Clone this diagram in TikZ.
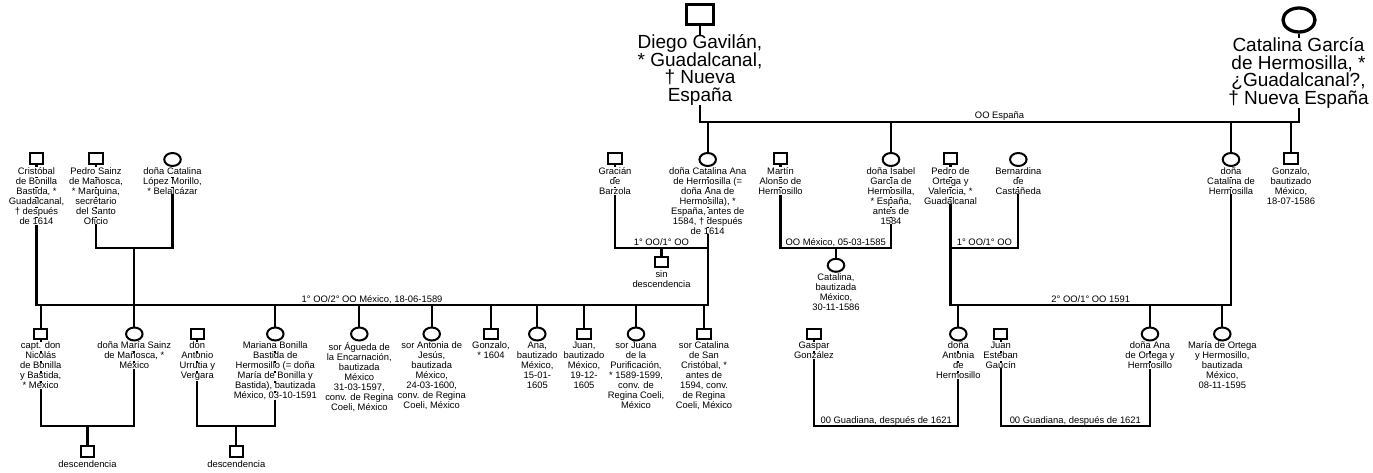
\documentclass[tikz,border=0pt]{standalone}
\usepackage{fontspec}
\setmainfont{Liberation Sans}
\usetikzlibrary{shapes.geometric,backgrounds}
\setlength{\lineskiplimit}{-10pt}

\tikzset{
	man/.style={draw, line width=2pt, minimum width=13.5pt, minimum height=10.5pt, inner sep=0pt},
	woman/.style={draw, ellipse, line width=2pt, minimum width=16.5pt, minimum height=13pt, inner sep=0pt},
	bigman/.style={man, line width=3.3pt, minimum width=27pt, minimum height=20pt},
	bigwoman/.style={woman, line width=3.3pt, minimum width=32pt, minimum height=24pt},
	txt/.style={anchor=north, align=center, fill=white, inner xsep=1pt, inner ysep=0pt, font=\fontsize{9.4}{10}\selectfont, execute at begin node={\rule{0pt}{7.5pt}}},
	bigtxt/.style={txt, font=\fontsize{19}{17.5}\selectfont, execute at begin node={\rule{0pt}{15pt}}},
	tie/.style={line width=2.2pt},
	lbl/.style={anchor=base, yshift=3pt, inner sep=0pt, font=\fontsize{9.4}{10}\selectfont},
	gaps/.style={line width=2.2pt, dash pattern=on 1.6pt off 8.4pt}
}

\begin{document}
\begin{tikzpicture}[x=1pt, y=-1pt]
		\useasboundingbox (0,0) rectangle (1373,473);
		
		\node[bigman]   (diego)    at (700,14.7)   {};
		\node[bigtxt]   (diego-t)  at (700,34.5)   {Diego Gavilán,\\{}* Guadalcanal,\\† Nueva\\España};
		\node[bigwoman] (cgar)     at (1299,20)    {};
		\node[bigtxt]   (cgar-t)   at (1298.5,37.5) {Catalina García\\de Hermosilla, *\\¿Guadalcanal?,\\† Nueva España};
		
		\node[man]      (cris)     at (36.5,158.5) {};
		\node[txt]      (cris-t)   at (36.5,167.3) {Cristóbal\\de Bonilla\\Bastida, *\\Guadalcanal,\\† después\\de 1614};
		\node[man]      (psainz)   at (96,158.5)   {};
		\node[txt]      (psainz-t) at (96,167.3)   {Pedro Sainz\\de Mañosca,\\{}* Marquina,\\secretario\\del Santo\\Oficio};
		\node[woman]    (clopez)   at (172.5,159.5) {};
		\node[txt]      (clopez-t) at (172.5,167.3) {doña Catalina\\López Morillo,\\{}* Belalcázar};
		\node[man]      (gracian)  at (615,158.5)  {};
		\node[txt]      (gracian-t) at (615,167.3) {Gracián\\de\\Barzola};
		\node[woman]    (cana)     at (707.7,159.5) {};
		\node[txt]      (cana-t)   at (707.7,167.3) {doña Catalina Ana\\de Hermosilla (=\\doña Ana de\\Hermosilla), *\\España, antes de\\1584, † después\\de 1614};
		\node[man]      (martin)   at (780.5,158.5) {};
		\node[txt]      (martin-t) at (780.5,167.3) {Martín\\Alonso de\\Hermosillo};
		\node[woman]    (isabel)   at (891,159.5)  {};
		\node[txt]      (isabel-t) at (891,167.3)  {doña Isabel\\García de\\Hermosilla,\\{}* España,\\antes de\\1584};
		\node[man]      (portega)  at (950.5,158.5) {};
		\node[txt]      (portega-t) at (950.5,167.3) {Pedro de\\Ortega y\\Valencia, *\\Guadalcanal};
		\node[woman]    (bern)     at (1018.3,159.5) {};
		\node[txt]      (bern-t)   at (1018.3,167.3) {Bernardina\\de\\Castañeda};
		\node[woman]    (chermo)   at (1231,159.5) {};
		\node[txt]      (chermo-t) at (1231,167.3) {doña\\Catalina de\\Hermosilla};
		\node[man]      (gonz86)   at (1291,158.5) {};
		\node[txt]      (gonz86-t) at (1291,167.3) {Gonzalo,\\bautizado\\México,\\18-07-1586};
		
		\node[man]      (sindesc)  at (661.5,262)  {};
		\node[txt]      (sindesc-t) at (661.5,270) {sin\\descendencia};
		\node[woman]    (catal)    at (836,265.3)  {};
		\node[txt]      (catal-t)  at (836,273)    {Catalina,\\bautizada\\México,\\30-11-1586};
		
		\node[man]      (nico)     at (40.7,334)   {};
		\node[txt]      (nico-t)   at (40.7,341.7) {capt. don\\Nicolás\\de Bonilla\\y Bastida,\\{}* México};
		\node[woman]    (maria)    at (134.3,334)  {};
		\node[txt]      (maria-t)  at (134.3,341.7) {doña María Sainz\\de Mañosca, *\\México};
		\node[man]      (antonio)  at (197.3,334)  {};
		\node[txt]      (antonio-t) at (197.3,341.7) {don\\Antonio\\Urrutia y\\Vergara};
		\node[woman]    (mariana)  at (275.3,334)  {};
		\node[txt]      (mariana-t) at (275.3,341.7) {Mariana Bonilla\\Bastida de\\Hermosillo (= doña\\María de Bonilla y\\Bastida), bautizada\\México, 03-10-1591};
		\node[woman]    (agueda)   at (359.3,334)  {};
		\node[txt]      (agueda-t) at (359.3,341.7) {sor Águeda de\\la Encarnación,\\bautizada\\México\\31-03-1597,\\conv. de Regina\\Coeli, México};
		\node[woman]    (santonia) at (431.7,334)  {};
		\node[txt]      (santonia-t) at (431.7,341.7) {sor Antonia de\\Jesús,\\bautizada\\México,\\24-03-1600,\\conv. de Regina\\Coeli, México};
		\node[man]      (gonz04)   at (491,334)    {};
		\node[txt]      (gonz04-t) at (491,341.7)  {Gonzalo,\\{}* 1604};
		\node[woman]    (ana)      at (537.3,334)  {};
		\node[txt]      (ana-t)    at (537.3,341.7) {Ana,\\bautizado\\México,\\15-01-\\1605};
		\node[man]      (juan)     at (584,334)    {};
		\node[txt]      (juan-t)   at (584,341.7)  {Juan,\\bautizado\\México,\\19-12-\\1605};
		\node[woman]    (juana)    at (636,334)    {};
		\node[txt]      (juana-t)  at (636,341.7)  {sor Juana\\de la\\Purificación,\\{}* 1589-1599,\\conv. de\\Regina Coeli,\\México};
		\node[man]      (scat)     at (704,334)    {};
		\node[txt]      (scat-t)   at (704,341.7)  {sor Catalina\\de San\\Cristóbal, *\\antes de\\1594, conv.\\de Regina\\Coeli, México};
		\node[man]      (gaspar)   at (814,334)    {};
		\node[txt]      (gaspar-t) at (814,341.7)  {Gaspar\\González};
		\node[woman]    (dantonia) at (958.3,334)  {};
		\node[txt]      (dantonia-t) at (958.3,341.7) {doña\\Antonia\\de\\Hermosillo};
		\node[man]      (juanest)  at (1000.7,334) {};
		\node[txt]      (juanest-t) at (1000.7,341.7) {Juan\\Esteban\\Gaucín};
		\node[woman]    (dana)     at (1150,334)   {};
		\node[txt]      (dana-t)   at (1150,341.7) {doña Ana\\de Ortega y\\Hermosillo};
		\node[woman]    (mortega)  at (1222.3,334) {};
		\node[txt]      (mortega-t) at (1222.3,341.7) {María de Ortega\\y Hermosillo,\\bautizada\\México,\\08-11-1595};
		
		\node[man]      (desc1)    at (87.5,451.7) {};
		\node[txt]      (desc1-t)  at (87.5,460)   {descendencia};
		\node[man]      (desc2)    at (236.3,451.7) {};
		\node[txt]      (desc2-t)  at (236.3,460)  {descendencia};
		
		\coordinate (mtop) at (999,122);
		\coordinate (mpc)  at (134.3,248);
		\coordinate (mcc)  at (372,305);
		\coordinate (mgc)  at (661.5,248);
		\coordinate (mmi)  at (836,248);
		\coordinate (mpb)  at (984,248);
		\coordinate (mpch) at (1090,305);
		\coordinate (mnm)  at (87.5,426);
		\coordinate (mam)  at (236.3,426);
		\coordinate (mgd)  at (886,426);
		\coordinate (mjd)  at (1075,426);
		
		\begin{scope}[on background layer]
			\fill[white] (0,0) rectangle (1373,473);
			\draw[tie] (diego) -- (diego |- mtop) -- node[lbl] {OO España} (cgar |- mtop) -- (cgar);
			\foreach \c in {cana,isabel,chermo,gonz86}
				\draw[tie] (mtop -| \c) -- (\c);
			
			\draw[tie] (psainz) -- (psainz |- mpc) -- (clopez |- mpc) -- (clopez);
			\draw[tie] (mpc) -- (maria);
			
			\draw[tie] (cris) -- (cris |- mcc) -- node[lbl] {1° OO/2° OO México, 18-06-1589} (cana |- mcc) -- (cana);
			\foreach \c in {nico,mariana,agueda,santonia,gonz04,ana,juan,juana,scat}
				\draw[tie] (mcc -| \c) -- (\c);
			
			\draw[tie] (gracian) -- (gracian |- mgc) -- node[lbl] {1° OO/1° OO} (cana |- mgc);
			\draw[tie] (mgc) -- (sindesc);
			
			\draw[tie] (martin) -- (martin |- mmi) -- node[lbl] {OO México, 05-03-1585} (isabel |- mmi) -- (isabel);
			\draw[tie] (mmi) -- (catal);
			
			\draw[tie] (portega |- mpb) -- node[lbl] {1° OO/1° OO} (bern |- mpb) -- (bern);
			\draw[tie] (portega) -- (portega |- mpch) -- node[lbl] {2° OO/1° OO 1591} (chermo |- mpch) -- (chermo);
			\foreach \c in {dantonia,dana,mortega}
				\draw[tie] (mpch -| \c) -- (\c);
			
			\draw[tie] (nico) -- (nico |- mnm) -- (maria |- mnm) -- (maria);
			\draw[tie] (mnm) -- (desc1);
			\draw[tie] (antonio) -- (antonio |- mam) -- (mariana |- mam) -- (mariana);
			\draw[tie] (mam) -- (desc2);
			
			\draw[tie] (gaspar) -- (gaspar |- mgd) -- node[lbl] {00 Guadiana, después de 1621} (dantonia |- mgd) -- (dantonia);
			\draw[tie] (juanest) -- (juanest |- mjd) -- node[lbl] {00 Guadiana, después de 1621} (dana |- mjd) -- (dana);
		\end{scope}
		
		\foreach \n in {cris,psainz,clopez,gracian,cana,martin,isabel,portega,bern,chermo,nico,maria,antonio,mariana,gaspar,dantonia,juanest,dana}
			\draw[gaps] ([yshift=-9.4pt]\n-t.north) -- (\n-t.south);
	\end{tikzpicture}
\end{document}
